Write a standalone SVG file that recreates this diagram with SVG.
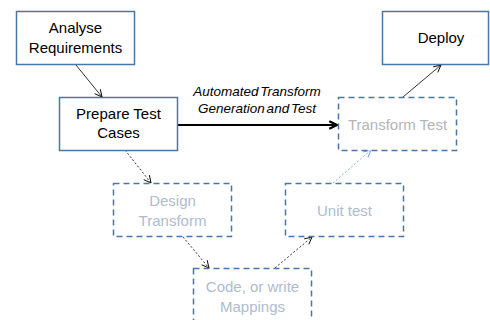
<svg xmlns="http://www.w3.org/2000/svg" width="490" height="320" viewBox="0 0 490 320">
<style>
.solid{fill:#fff;stroke:#4a76a8;stroke-width:1.5}
.dash{fill:#fff;stroke:#4a76a8;stroke-width:1.5;stroke-dasharray:6 4}
.t{font-family:"Liberation Sans",Arial,sans-serif;font-size:15px;text-anchor:middle;fill:#000}
.g{fill:#b5b5b5}
.b{fill:#aebccf}
.lbl{font-family:"Liberation Sans",Arial,sans-serif;font-size:13.5px;font-style:italic;text-anchor:middle;fill:#000;word-spacing:-2px}
.c{fill:none;stroke:#000;stroke-width:0.8}
.d{fill:none;stroke:#000;stroke-width:0.8;stroke-dasharray:2 2}
.lb{fill:none;stroke:#6a9ed8;stroke-width:0.8;stroke-dasharray:2 2}
</style>
<defs>
<marker id="ah" viewBox="0 0 10 10" refX="9" refY="5" markerWidth="9" markerHeight="9" markerUnits="userSpaceOnUse" orient="auto">
<polyline points="1,1 9,5 1,9" fill="none" stroke="#000" stroke-width="1"/>
</marker>
<marker id="ahb" viewBox="0 0 10 10" refX="9" refY="5" markerWidth="9" markerHeight="9" markerUnits="userSpaceOnUse" orient="auto">
<polyline points="1,1 9,5 1,9" fill="none" stroke="#6a9ed8" stroke-width="1"/>
</marker>
<marker id="aht" viewBox="0 0 10 10" refX="9" refY="5" markerWidth="11" markerHeight="11" markerUnits="userSpaceOnUse" orient="auto">
<polyline points="2,1.5 9,5 2,8.5" fill="none" stroke="#000" stroke-width="2"/>
</marker>
</defs>
<g id="connectors">
<line class="c" x1="76" y1="65" x2="102" y2="97" marker-end="url(#ah)"/>
<line x1="178" y1="125" x2="337" y2="125" stroke="#000" stroke-width="2.2" marker-end="url(#aht)"/>
<line class="d" x1="125" y1="150" x2="151" y2="183" marker-end="url(#ah)"/>
<line class="d" x1="183" y1="237" x2="209" y2="268" marker-end="url(#ah)"/>
<line class="d" x1="275" y1="268" x2="312" y2="237" marker-end="url(#ah)"/>
<line class="lb" x1="333" y1="183" x2="371" y2="150" marker-end="url(#ahb)"/>
<line class="c" x1="403" y1="97" x2="441" y2="65" marker-end="url(#ah)"/>
<text class="lbl" x="257" y="96">Automated Transform</text>
<text class="lbl" x="257" y="113">Generation and Test</text>
</g>
<g id="analyse">
<rect class="solid" x="16.5" y="11.5" width="118" height="53"/>
<text class="t" x="75.5" y="33">Analyse</text>
<text class="t" x="75.5" y="53">Requirements</text>
</g>
<g id="prepare">
<rect class="solid" x="59.5" y="97.5" width="118" height="53"/>
<text class="t" x="118.5" y="119">Prepare Test</text>
<text class="t" x="118.5" y="138">Cases</text>
</g>
<g id="deploy">
<rect class="solid" x="382.5" y="11.5" width="106" height="53"/>
<text class="t" x="441" y="43">Deploy</text>
</g>
<g id="transformtest">
<rect class="dash" x="338.5" y="97.5" width="118" height="53"/>
<text class="t g" x="397.5" y="130">Transform Test</text>
</g>
<g id="design">
<rect class="dash" x="113.5" y="183.5" width="118" height="53"/>
<text class="t b" x="172.5" y="206">Design</text>
<text class="t b" x="172.5" y="226">Transform</text>
</g>
<g id="unittest">
<rect class="dash" x="285.5" y="183.5" width="118" height="53"/>
<text class="t b" x="344.5" y="216">Unit test</text>
</g>
<g id="code">
<rect class="dash" x="193.5" y="268.5" width="118" height="60"/>
<text class="t b" x="252.5" y="292">Code, or write</text>
<text class="t b" x="252.5" y="312">Mappings</text>
</g>
</svg>
